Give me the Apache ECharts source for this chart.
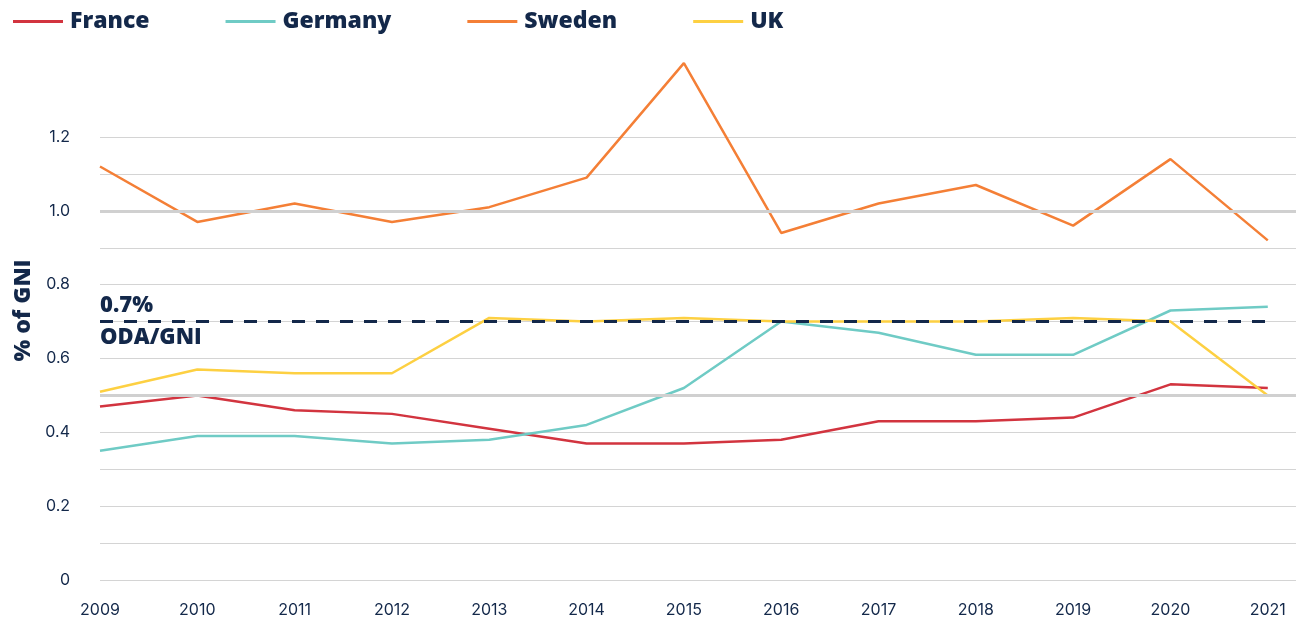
<!DOCTYPE html>
<html>
<head>
<meta charset="utf-8">
<script src="https://cdn.jsdelivr.net/npm/echarts@6/dist/echarts.min.js"></script>
<style>
  html, body { margin: 0; padding: 0; background: #ffffff; }
  #chart { width: 1301px; height: 624px; }
</style>
</head>
<body>
<div id="chart"></div>
<script>
// ODA as % of GNI, 2009–2021
const years = [2009, 2010, 2011, 2012, 2013, 2014, 2015, 2016, 2017, 2018, 2019, 2020, 2021];
const france  = [0.47, 0.50, 0.46, 0.45, 0.41, 0.37, 0.37, 0.38, 0.43, 0.43, 0.44, 0.53, 0.52];
const germany = [0.35, 0.39, 0.39, 0.37, 0.38, 0.42, 0.52, 0.70, 0.67, 0.61, 0.61, 0.73, 0.74];
const sweden  = [1.12, 0.97, 1.02, 0.97, 1.01, 1.09, 1.40, 0.94, 1.02, 1.07, 0.96, 1.14, 0.92];
const uk      = [0.51, 0.57, 0.56, 0.56, 0.71, 0.70, 0.71, 0.70, 0.70, 0.70, 0.71, 0.70, 0.50];
const seriesNames = ['France', 'Germany', 'Sweden', 'UK'];
const target = 0.7;
const targetLabels = ['0.7%', 'ODA/GNI'];
const emphasisLines = [0.5, 1.0];

const navy = '#13284a';
const colors = ['#d2343f', '#6fcbc5', '#f47f36', '#fdd042'];
const pairs = arr => arr.map((v, i) => [years[i], v]);
const boldFont = 'Open Sans';
const tickFont = 'Inter';

const chart = echarts.init(document.getElementById('chart'));

const lineSeries = [france, germany, sweden, uk].map((data, i) => ({
  name: seriesNames[i],
  type: 'line',
  data: pairs(data),
  symbol: 'none',
  clip: false,
  z: 3,
  lineStyle: { width: 2.5, color: colors[i] },
  itemStyle: { color: colors[i] }
}));

chart.setOption({
  animation: false,
  color: colors,
  grid: { left: 100, right: 5, top: 137, bottom: 44, outerBoundsMode: 'none' },
  legend: {
    left: 8,
    top: 5,
    itemWidth: 50,
    itemHeight: 3,
    itemGap: 76,
    icon: 'rect',
    data: seriesNames,
    textStyle: { color: navy, fontSize: 23, fontWeight: 800, fontFamily: boldFont, padding: [0, 0, 0, 2] }
  },
  xAxis: {
    type: 'value',
    min: years[0],
    max: years[years.length - 1] + 0.29,
    interval: 1,
    axisLine: { show: false },
    axisTick: { show: false },
    splitLine: { show: false },
    axisLabel: {
      margin: 22,
      color: navy,
      fontSize: 16,
      fontFamily: tickFont,
      showMaxLabel: false,
      formatter: v => Number.isInteger(v) ? String(v) : ''
    }
  },
  yAxis: {
    type: 'value',
    min: 0,
    max: 1.2,
    interval: 0.1,
    name: '% of GNI',
    nameLocation: 'middle',
    nameGap: 62,
    nameTextStyle: { color: navy, fontSize: 23, fontWeight: 800, fontFamily: boldFont, padding: [0, 0, 0, 96] },
    axisLine: { show: false },
    axisTick: { show: false },
    splitLine: { lineStyle: { color: '#d4d4d4', width: 1 } },
    axisLabel: {
      margin: 30,
      color: navy,
      fontSize: 16,
      fontFamily: tickFont,
      formatter: v => {
        const r = Math.round(v * 10);
        if (r % 2 !== 0) return '';
        return r === 0 ? '0' : (r / 10).toFixed(1);
      }
    }
  },
  series: [
    {
      // heavier reference lines at 0.5 and 1.0
      type: 'line',
      data: [],
      silent: true,
      z: 1,
      markLine: {
        silent: true,
        symbol: 'none',
        label: { show: false },
        lineStyle: { color: '#d0d0d0', width: 3, type: 'solid' },
        data: emphasisLines.map(v => ({ yAxis: v }))
      }
    },
    ...lineSeries,
    {
      // 0.7% ODA/GNI target
      type: 'line',
      data: [],
      silent: true,
      z: 4,
      markLine: {
        silent: true,
        symbol: 'none',
        label: { color: navy, fontSize: 22, fontWeight: 800, fontFamily: boldFont, padding: 0 },
        data: [
          [
            { coord: [years[0], target], lineStyle: { color: navy, width: 3, type: [13, 11] },
              label: { show: true, position: 'insideStartTop', formatter: targetLabels[0], distance: [0, 5] } },
            { coord: [years[years.length - 1] + 0.07, target] }
          ],
          [
            { coord: [years[0], target], lineStyle: { color: 'rgba(0,0,0,0)', width: 0 },
              label: { show: true, position: 'insideStartBottom', formatter: targetLabels[1], distance: [0, 5] } },
            { coord: [years[years.length - 1], target] }
          ]
        ]
      }
    }
  ]
});
</script>
</body>
</html>
